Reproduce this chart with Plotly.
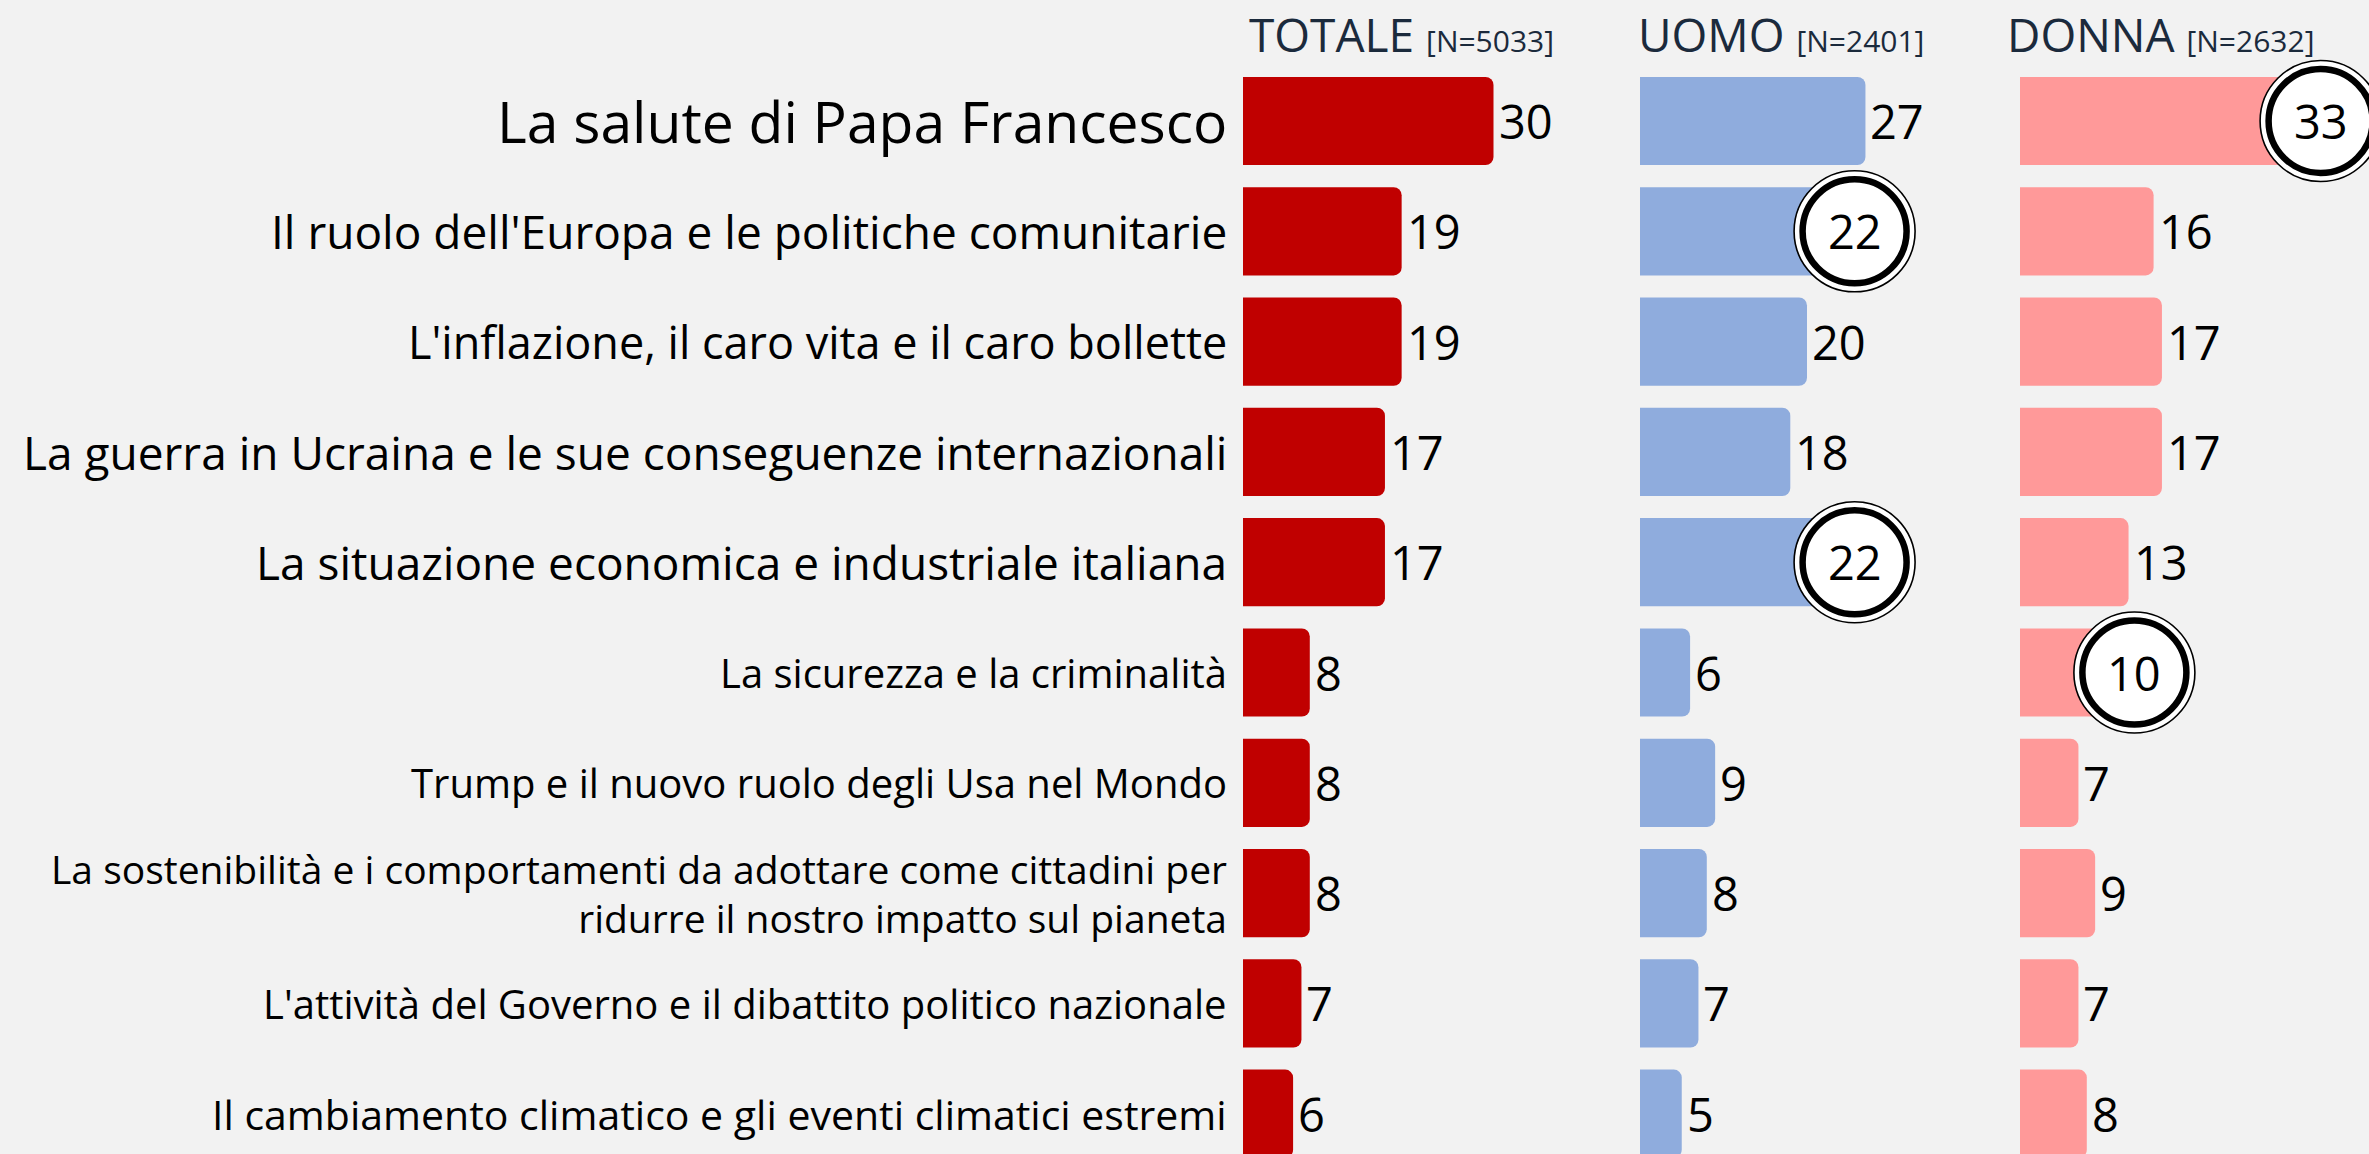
import plotly.graph_objects as go

# ---------------- data ----------------
categories = [
    "La salute di Papa Francesco",
    "Il ruolo dell'Europa e le politiche comunitarie",
    "L'inflazione, il caro vita e il caro bollette",
    "La guerra in Ucraina e le sue conseguenze internazionali",
    "La situazione economica e industriale italiana",
    "La sicurezza e la criminalità",
    "Trump e il nuovo ruolo degli Usa nel Mondo",
    "La sostenibilità e i comportamenti da adottare come cittadini per<br>ridurre il nostro impatto sul pianeta",
    "L'attività del Governo e il dibattito politico nazionale",
    "Il cambiamento climatico e gli eventi climatici estremi",
]
totale = [30, 19, 19, 17, 17, 8, 8, 8, 7, 6]
uomo = [27, 22, 20, 18, 22, 6, 9, 8, 7, 5]
donna = [33, 16, 17, 17, 13, 10, 7, 9, 7, 8]

series_names = ["TOTALE", "UOMO", "DONNA"]
series_n = ["[N=5033]", "[N=2401]", "[N=2632]"]
# highlighted (circled) values: series index -> category indices
highlights = {1: [1, 4], 2: [0, 5]}

# ---------------- style ----------------
W, H = 2369, 1154
BG = "#F2F2F2"
colors = ["#C00000", "#8FACDD", "#FF9999"]
header_color = "#1B2A3C"
FONT = "Open Sans"
panel_start_px = [1243, 1640, 2020]
xmax = 40.0
px_per_unit = 8.35
panel_w = xmax * px_per_unit
label_sizes = [57, 46, 45, 46, 46, 40, 40, 39, 40, 41]
value_size = 47
header_shift = [4, -4, -15]
circle_offset = 3.7
circle_max = xmax - 4.0
multiline_base = 37.5  # base size controlling line spacing of wrapped labels

row_px = 110.3
first_px = 121
y_top = -first_px / row_px
y_bot = y_top + H / row_px

fig = go.Figure()
data_sets = [totale, uomo, donna]
ypos = list(range(len(categories)))
axis_ids = ["x", "x2", "x3"]

for s, vals in enumerate(data_sets):
    fig.add_trace(go.Bar(
        x=vals, y=ypos, orientation="h", width=0.8,
        marker=dict(color=colors[s], cornerradius=8, line=dict(width=0)),
        xaxis=axis_ids[s], yaxis="y", hoverinfo="skip", showlegend=False,
    ))


def circle_x(v):
    return min(v + circle_offset, circle_max)


# circles
for s, idxs in highlights.items():
    vals = data_sets[s]
    cx = [circle_x(vals[i]) for i in idxs]
    cy = idxs
    fig.add_trace(go.Scatter(
        x=cx, y=cy, mode="markers", xaxis=axis_ids[s], yaxis="y",
        marker=dict(size=121, color="white", line=dict(color="black", width=1.6)),
        cliponaxis=False, hoverinfo="skip", showlegend=False,
    ))
    fig.add_trace(go.Scatter(
        x=cx, y=cy, mode="markers", xaxis=axis_ids[s], yaxis="y",
        marker=dict(size=104, color="white", line=dict(color="black", width=6.5)),
        cliponaxis=False, hoverinfo="skip", showlegend=False,
    ))

annotations = []
# value labels
for s, vals in enumerate(data_sets):
    hl = highlights.get(s, [])
    for i, v in enumerate(vals):
        if i in hl:
            annotations.append(dict(
                x=circle_x(v), y=i, xref=axis_ids[s], yref="y",
                text=str(v), showarrow=False, xanchor="center", yanchor="middle",
                font=dict(family=FONT, size=value_size, color="black"),
            ))
        else:
            annotations.append(dict(
                x=v, y=i, xref=axis_ids[s], yref="y", xshift=3,
                text=str(v), showarrow=False, xanchor="left", yanchor="middle",
                font=dict(family=FONT, size=value_size, color="black"),
            ))

# category labels
for i, c in enumerate(categories):
    lines = c.split("<br>")
    if len(lines) > 1:
        text = "<br>".join(
            f"<span style='font-size:{label_sizes[i]}px'>{ln}</span>" for ln in lines
        )
        fsize = multiline_base
    else:
        text = c
        fsize = label_sizes[i]
    annotations.append(dict(
        x=1229 / W, y=i, xref="paper", yref="y", text=text, showarrow=False,
        xanchor="right", yanchor="middle", align="right",
        font=dict(family=FONT, size=fsize, color="black"),
    ))

# headers
for s in range(3):
    annotations.append(dict(
        x=0, y=1 - 34 / H, xref=f"{axis_ids[s]} domain", yref="paper",
        xshift=header_shift[s],
        text=f"{series_names[s]} <span style='font-size:30px'>{series_n[s]}</span>",
        showarrow=False, xanchor="left", yanchor="middle",
        font=dict(family=FONT, size=46, color=header_color),
    ))

layout_axes = {}
for s in range(3):
    key = "xaxis" if s == 0 else f"xaxis{s+1}"
    d0 = panel_start_px[s] / W
    layout_axes[key] = dict(
        domain=[d0, min(1.0, d0 + panel_w / W)],
        range=[0, xmax if d0 + panel_w / W <= 1.0 else (1.0 - d0) * W / px_per_unit],
        anchor="y", visible=False, showgrid=False, zeroline=False, fixedrange=True,
    )

fig.update_layout(
    width=W, height=H,
    margin=dict(l=0, r=0, t=0, b=0),
    paper_bgcolor=BG, plot_bgcolor=BG,
    yaxis=dict(range=[y_bot, y_top], domain=[0, 1], visible=False,
               showgrid=False, zeroline=False, fixedrange=True),
    annotations=annotations,
    bargap=0.2,
    showlegend=False,
    **layout_axes,
)

fig.write_html(
    "out.html",
    config={"displayModeBar": False},
    post_script="document.body.style.margin='0';document.body.style.background='#F2F2F2';",
)
